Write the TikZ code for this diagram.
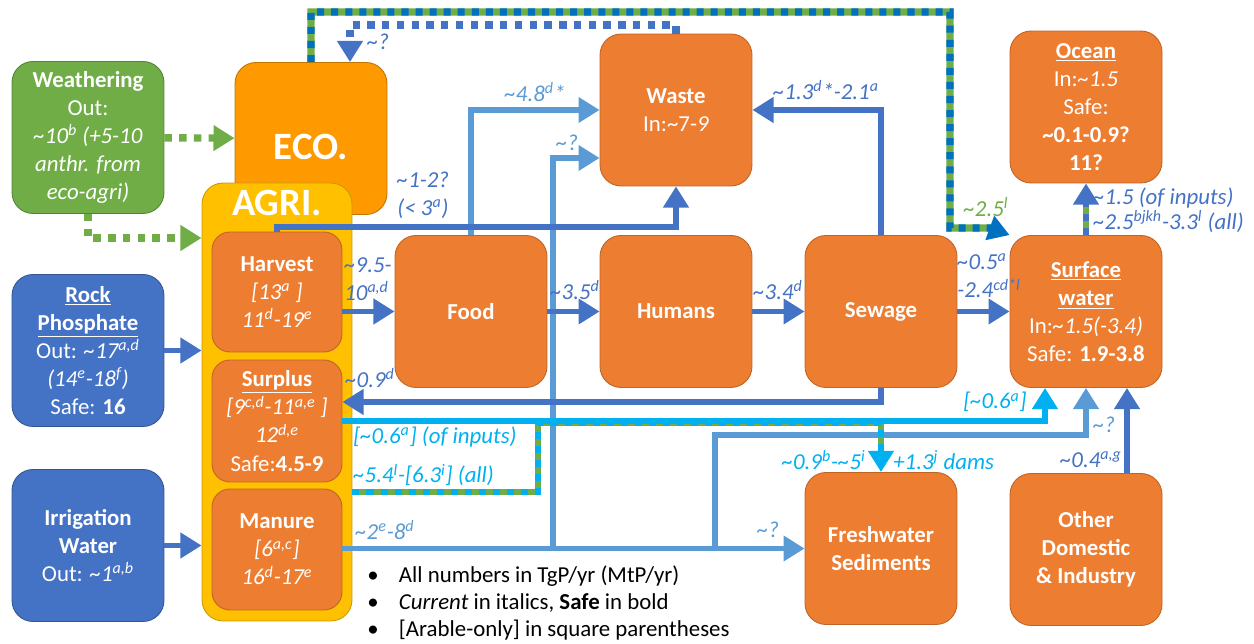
\documentclass[tikz,border=0pt]{standalone}
\usepackage{fontspec}
\setmainfont{Carlito}
\usetikzlibrary{positioning, arrows.meta}
\definecolor{dblue}{HTML}{4472C4}
\definecolor{lblue}{HTML}{5B9BD5}
\definecolor{cyanb}{HTML}{00B0F0}
\definecolor{gren}{HTML}{70AD47}
\definecolor{tblue}{HTML}{0070C0}
\definecolor{orng}{HTML}{ED7D31}
\definecolor{ecoorng}{HTML}{FF9900}
\definecolor{yelw}{HTML}{FFC000}
\newcommand{\apx}{\textasciitilde}
\tikzset{>={Triangle[length=12pt,width=14pt]}}
\tikzset{
    store/.style = {rectangle, rounded corners=0.42cm, draw=orng!80!black, fill=orng, line width=0.5pt,
                        text=white, align=center, inner sep=2pt,
                        minimum width=3.04cm, minimum height=3.04cm, font=\fontsize{13}{16}\selectfont},
    source/.style = {store, draw=dblue!75!black, fill=dblue},
    part/.style = {store, rounded corners=0.36cm, minimum width=2.6cm, minimum height=2.42cm},
    flow/.style = {line width=3.4pt, ->},
    dotflow/.style = {line width=4.2pt, dash pattern=on 4.2pt off 4.2pt},
    amount/.style = {font=\fontsize{13}{16}\selectfont\itshape, inner sep=0pt, align=left}
}

\begin{document}
\begin{tikzpicture}[x=0.02cm, y=-0.02cm]
    \useasboundingbox (0,0) rectangle (1254,644);
    % sources
    \node (weather) [source, fill=gren, draw=gren!75!black] at (88,137.5) {\textbf{Weathering}\\Out:\\
        \textit{\apx10\textsuperscript{b} (+5-10}\\\textit{anthr. from}\\\textit{eco-agri)}};
    \node (rock) [source] at (88,350.5) {\textbf{\underline{Rock}}\\\textbf{\underline{Phosphate}}\\
        Out: \textit{\apx17\textsuperscript{a,d}}\\\textit{(14\textsuperscript{e}-18\textsuperscript{f})}\\Safe: \textbf{16}};
    \node (irrig) [source] at (88,545.5) {\textbf{Irrigation}\\\textbf{Water}\\Out: \textit{\apx1\textsuperscript{a,b}}};
    % eco and agri
    \node (eco) [store, fill=ecoorng, draw=ecoorng!75!black, font=\fontsize{22}{26}\selectfont\bfseries,
        text height=0.84cm, text depth=0pt] at (311,138.5) {ECO.};
    \node (agri) [store, fill=yelw, draw=yelw!80!black, minimum width=3cm, minimum height=8.76cm,
        label={[anchor=north, inner sep=0pt, yshift=-0.15cm, text=white, font=\fontsize{22}{26}\selectfont\bfseries]north:AGRI.}]
        at (277,402) {};
    \node (harvest) [part, minimum height=2.4cm] at (277,292) {\textbf{Harvest}\\\textit{[13\textsuperscript{a} ]}\\
        \textit{11\textsuperscript{d}-19\textsuperscript{e}}};
    \node (surplus) [part, minimum height=2.44cm] at (277,421) {\textbf{\underline{Surplus}}\\
        \textit{[9\textsuperscript{c,d}-11\textsuperscript{a,e} ]}\\\textit{12\textsuperscript{d,e}}\\Safe:\textbf{4.5-9}};
    \node (manure) [part] at (277,549.5) {\textbf{Manure}\\\textit{[6\textsuperscript{a,c}]}\\
        \textit{16\textsuperscript{d}-17\textsuperscript{e}}};
    % pools
    \node (food) [store] at (471,311.5) {\textbf{Food}};
    \node (humans) [store] at (676,311.5) {\textbf{Humans}};
    \node (sewage) [store] at (881,311.5) {\textbf{Sewage}};
    \node (surface) [store] at (1086,311.5) {\textbf{\underline{Surface}}\\\textbf{\underline{water}}\\
        In:\textit{\apx1.5(-3.4)}\\Safe: \textbf{1.9-3.8}};
    \node (waste) [store] at (676,110) {\textbf{Waste}\\In:\apx7-\textit{9}};
    \node (ocean) [store] at (1086,107) {\textbf{\underline{Ocean}}\\In:\textit{\apx1.5}\\Safe:\\
        \textbf{\apx0.1-0.9?}\\\textbf{11?}};
    \node (fresh) [store] at (881,548.5) {\textbf{Freshwater}\\\textbf{Sediments}};
    \node (other) [store] at (1086,549.5) {\textbf{Other}\\\textbf{Domestic}\\\textbf{\& Industry}};
    \coordinate (jwaste) at (553,548.5);
    \coordinate (jsurf) at (715,548.5);

    % weathering
    \draw [dotflow, gren, ->] (weather) -- (eco);
    \draw [dotflow, gren, ->] (weather.south) |- (agri.west |- 0,238);
    % light blue flows
    \draw [flow, lblue] (food.north) |- (waste.west);
    \draw [flow, lblue] (manure.east |- fresh.west) -- (fresh.west);
    \draw [flow, lblue] (jwaste) |- (waste.west |- 0,158);
    \draw [flow, lblue] (jsurf) |- (1086,435) -- (surface.south);
    % dark blue flows
    \draw [flow, dblue] (rock.east) -- (rock.east -| agri.west);
    \draw [flow, dblue] (irrig.east) -- (irrig.east -| agri.west);
    \draw [flow, dblue] (harvest.east |- food.west) -- (food.west);
    \draw [flow, dblue] (food) -- (humans);
    \draw [flow, dblue] (humans) -- (sewage);
    \draw [flow, dblue] (sewage) -- (surface);
    \draw [flow, dblue] (sewage.south) |- (surplus.east |- 0,402);
    \draw [flow, dblue] (sewage.north) |- (waste.east);
    \draw [flow, dblue] (harvest.north) -- (harvest.north |- 0,227) -| (waste.south);
    \draw [flow, dblue] (1127,0 |- other.north) -- (1127,0 |- surface.south);
    \draw [dotflow, dblue, line width=4pt, ->] (waste.north) -- (waste.north |- 0,25) -| (eco.north -| 350,0);
    % mixed flows
    \draw [line width=3.4pt, gren, shorten >=10pt] (agri.east |- 0,492) -| (538,423) -- (fresh.north |- 0,423) -- (fresh.north);
    \draw [flow, cyanb, dash pattern=on 4pt off 4pt] (agri.east |- 0,492) -| (538,423) -- (fresh.north |- 0,423) -- (fresh.north);
    \draw [flow, cyanb] (surplus.east) -| (surface.south -| 1045,0);
    \draw [line width=3.4pt, gren, shorten >=10pt] (surface.north) -- (ocean.south);
    \draw [flow, dblue, dash pattern=on 4pt off 4pt] (surface.north) -- (ocean.south);
    \draw [line width=4pt, gren, shorten >=10pt] (eco.north) |- (950,12) |- (990,228) -- (surface.north west);
    \draw [flow, line width=4pt, tblue, dash pattern=on 4pt off 4pt] (eco.north) |- (950,12) |- (990,228) -- (surface.north west);

    % amounts
    \node (lharv) [amount, dblue, anchor=west] at (344,279) {\apx9.5-\\10\textsuperscript{a,d}};
    \node (lfood) [amount, dblue] at (575,290) {\apx3.5\textsuperscript{d}};
    \node (lhum) [amount, dblue] at (778,290) {\apx3.4\textsuperscript{d}};
    \node (lsew) [amount, dblue, anchor=west] at (957,276) {\apx0.5\textsuperscript{a}\\-2.4\textsuperscript{cd*l}};
    \node (lback) [amount, dblue] at (370,378) {\apx0.9\textsuperscript{d}};
    \node (lagri) [amount, dblue, align=center] at (423,195) {\apx1-2?\\(< 3\textsuperscript{a})};
    \node (lwaste) [amount, dblue] at (826,90) {\apx1.3\textsuperscript{d}*-2.1\textsuperscript{a}};
    \node (leco) [amount, dblue] at (378,42) {\apx?};
    \node (loth) [amount, dblue, anchor=east] at (1122,460) {\apx0.4\textsuperscript{a,g}};
    \node (locean) [amount, dblue, anchor=west] at (1093,210) {\apx1.5 (of inputs)\\[-2pt]
        \apx2.5\textsuperscript{bjkh}-3.3\textsuperscript{l} (all)};
    \node (lfw) [amount, lblue] at (535,92) {\apx4.8\textsuperscript{d}*};
    \node (lmw) [amount, lblue] at (567,143) {\apx?};
    \node (lman) [amount, lblue, anchor=west] at (355,530) {\apx2\textsuperscript{e}-8\textsuperscript{d}};
    \node (lmf) [amount, lblue] at (768,530) {\apx?};
    \node (lms) [amount, lblue] at (1104,425) {\apx?};
    \node (lsur) [amount, cyanb, anchor=west] at (353,437) {[\apx0.6\textsuperscript{a}] (of inputs)};
    \node (lall) [amount, cyanb, anchor=west] at (353,475) {\apx5.4\textsuperscript{l}-[6.3\textsuperscript{i}] (all)};
    \node (lss) [amount, cyanb] at (995,402) {[\apx0.6\textsuperscript{a}]};
    \node (lsed) [amount, cyanb, anchor=east] at (866,460) {\apx0.9\textsuperscript{b}-\apx5\textsuperscript{i}};
    \node (ldam) [amount, cyanb, anchor=west] at (893,460) {+1.3\textsuperscript{j} dams};
    \node (lrun) [amount, gren] at (986,207) {\apx2.5\textsuperscript{l}};

    % notes
    \node (notes) [anchor=west, inner sep=0pt, align=left, font=\fontsize{13}{15.6}\selectfont] at (367,603)
        {\makebox[18pt][l]{\textbullet}All numbers in TgP/yr (MtP/yr)\\
         \makebox[18pt][l]{\textbullet}\textit{Current} in italics, \textbf{Safe} in bold\\
         \makebox[18pt][l]{\textbullet}[Arable-only] in square parentheses};
\end{tikzpicture}
\end{document}
